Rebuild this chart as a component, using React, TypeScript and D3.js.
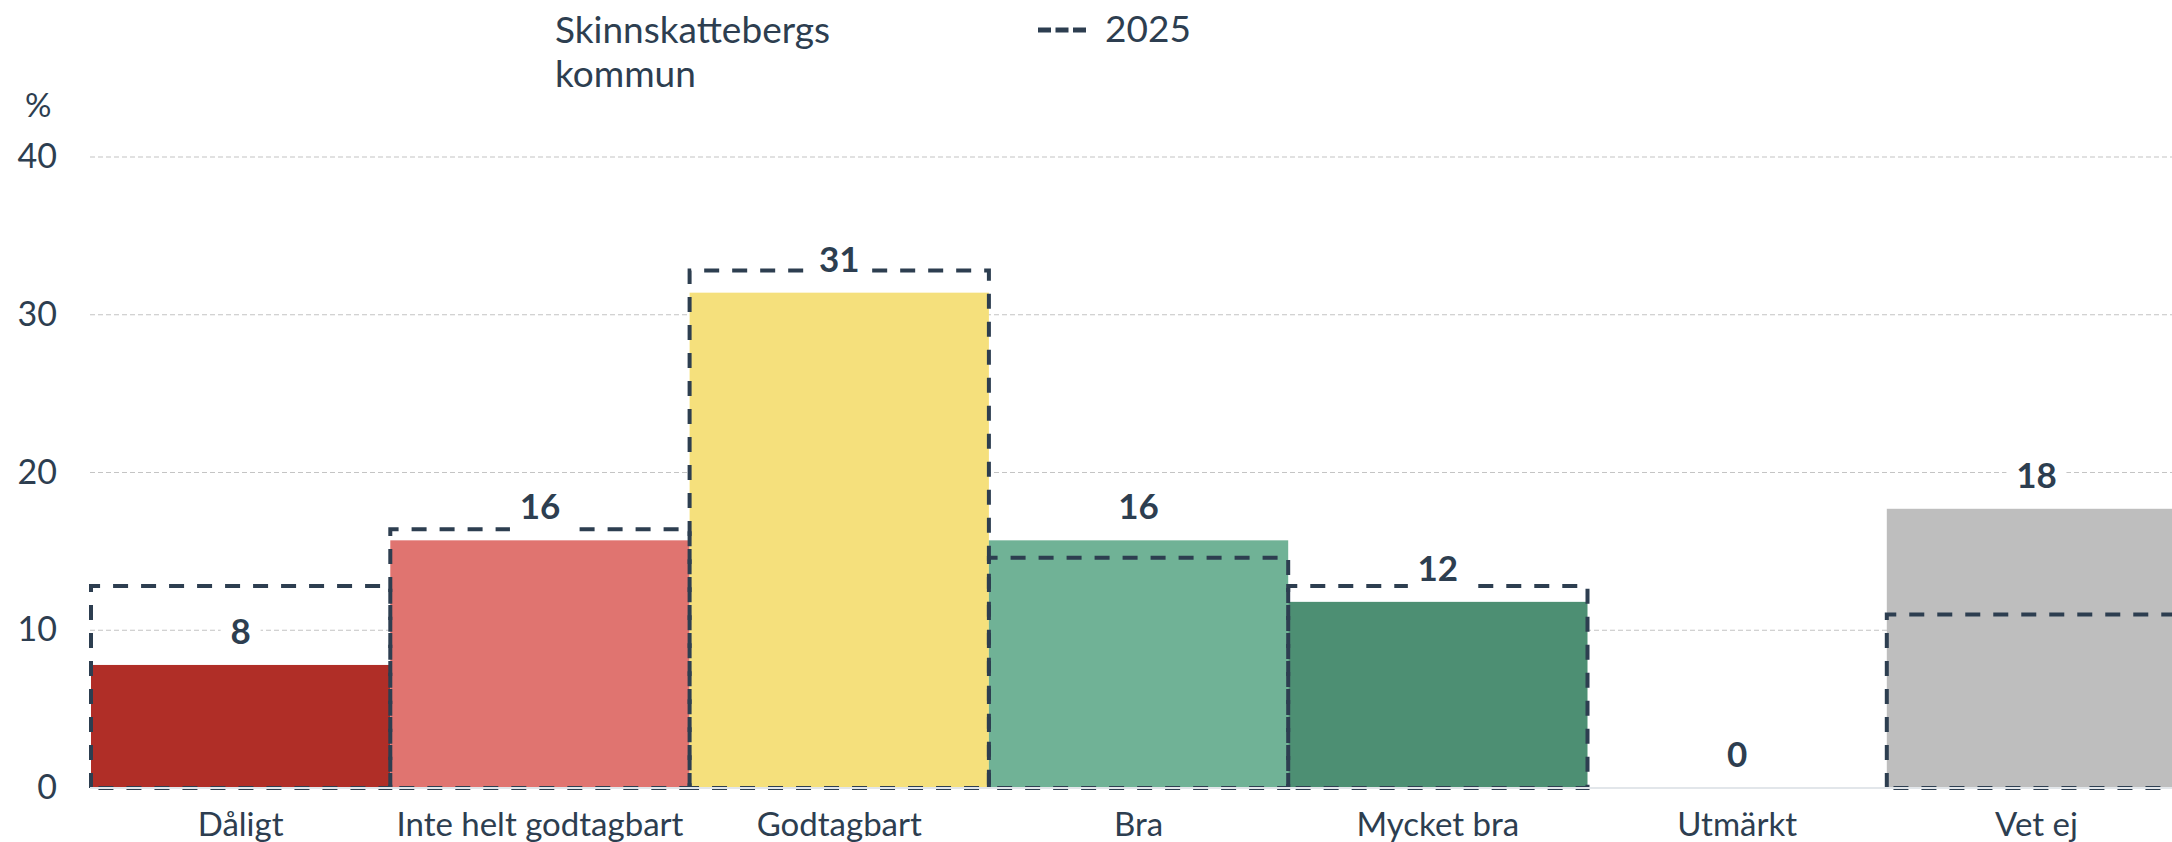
import * as d3 from 'd3'

// Andel svar per kategori, Skinnskattebergs kommun, jämfört med 2025 (streckad kontur)
const CATEGORIES = ['Dåligt', 'Inte helt godtagbart', 'Godtagbart', 'Bra', 'Mycket bra', 'Utmärkt', 'Vet ej']
const CURRENT = [7.8, 15.7, 31.4, 15.7, 11.8, 0, 17.7]
const PREV_2025 = [12.8, 16.4, 32.8, 14.6, 12.8, 0, 11.0]
const BAR_COLORS = ['#b02e27', '#e07470', '#f5e07c', '#70b296', '#4d8f73', '#4d8f73', '#bebebe']
const Y_TICKS = [0, 10, 20, 30, 40]
const LEGEND_MAIN = ['Skinnskattebergs', 'kommun']
const LEGEND_PREV = '2025'

const W = 2172, H = 842
const TEXT = '#2d3e50'
const FONT = 'Lato, "Open Sans", sans-serif'

export default function App() {
  const x = d3.scaleBand<string>().domain(CATEGORIES).range([91, 91 + 7 * 299.3]).padding(0)
  const y = d3.scaleLinear().domain([0, 40]).range([788, 157])
  const bw = x.bandwidth()
  const y0 = y(0)

  return (
    <svg width={W} height={H} style={{ position: 'absolute', left: 0, top: 0, display: 'block' }}
      fontFamily={FONT}>
      <rect width={W} height={H} fill="#fff" />

      {/* grid + tick labels */}
      {Y_TICKS.map(t => (
        <g key={t}>
          {t > 0 && (
            <line x1={90} x2={W} y1={y(t)} y2={y(t)} stroke="#c4c4c4" strokeWidth={1.2} strokeDasharray="5,3" />
          )}
          <text x={57} y={y(t) + 11} textAnchor="end" fontSize={34} fill={TEXT}>{t}</text>
        </g>
      ))}
      <text x={25} y={117} fontSize={33} fill={TEXT}>%</text>

      {/* bars */}
      {CATEGORIES.map((c, i) => CURRENT[i] > 0 && (
        <rect key={c} x={x(c)} y={y(CURRENT[i])} width={bw} height={y0 - y(CURRENT[i])} fill={BAR_COLORS[i]} />
      ))}

      {/* 2025 outlines */}
      {CATEGORIES.map((c, i) => {
        if (!PREV_2025[i]) return null
        const x0 = x(c)!, x1 = x0 + bw, yt = y(PREV_2025[i])
        return (
          <path key={c} d={`M${x0},${y0}V${yt}H${x1}V${y0}Z`} fill="none"
            stroke={TEXT} strokeWidth={4} strokeDasharray="15,13" />
        )
      })}

      {/* axis line */}
      <line x1={90} x2={W} y1={y0} y2={y0} stroke="#e2e6ea" strokeWidth={2} />

      {/* data labels */}
      {CATEGORIES.map((c, i) => {
        const label = String(Math.round(CURRENT[i]))
        const cx = x(c)! + bw / 2
        const base = y(CURRENT[i]) - 21
        const tw = label.length * 20
        return (
          <g key={c}>
            <rect x={cx - tw / 2 - 10} y={base - 34} width={tw + 20} height={48} fill="#fff" />
            <text x={cx} y={base} textAnchor="middle" fontSize={35} fontWeight={700} fill={TEXT}>{label}</text>
          </g>
        )
      })}

      {/* category labels */}
      {CATEGORIES.map(c => (
        <text key={c} x={x(c)! + bw / 2} y={836} textAnchor="middle" fontSize={33} fill={TEXT}>{c}</text>
      ))}

      {/* legend */}
      {LEGEND_MAIN.map((t, i) => (
        <text key={t} x={555} y={43 + i * 44} fontSize={37} fill={TEXT}>{t}</text>
      ))}
      <line x1={1038} x2={1086} y1={30} y2={30} stroke={TEXT} strokeWidth={5} strokeDasharray="13,4.5" />
      <text x={1105} y={42} fontSize={37} fill={TEXT}>{LEGEND_PREV}</text>
    </svg>
  )
}
